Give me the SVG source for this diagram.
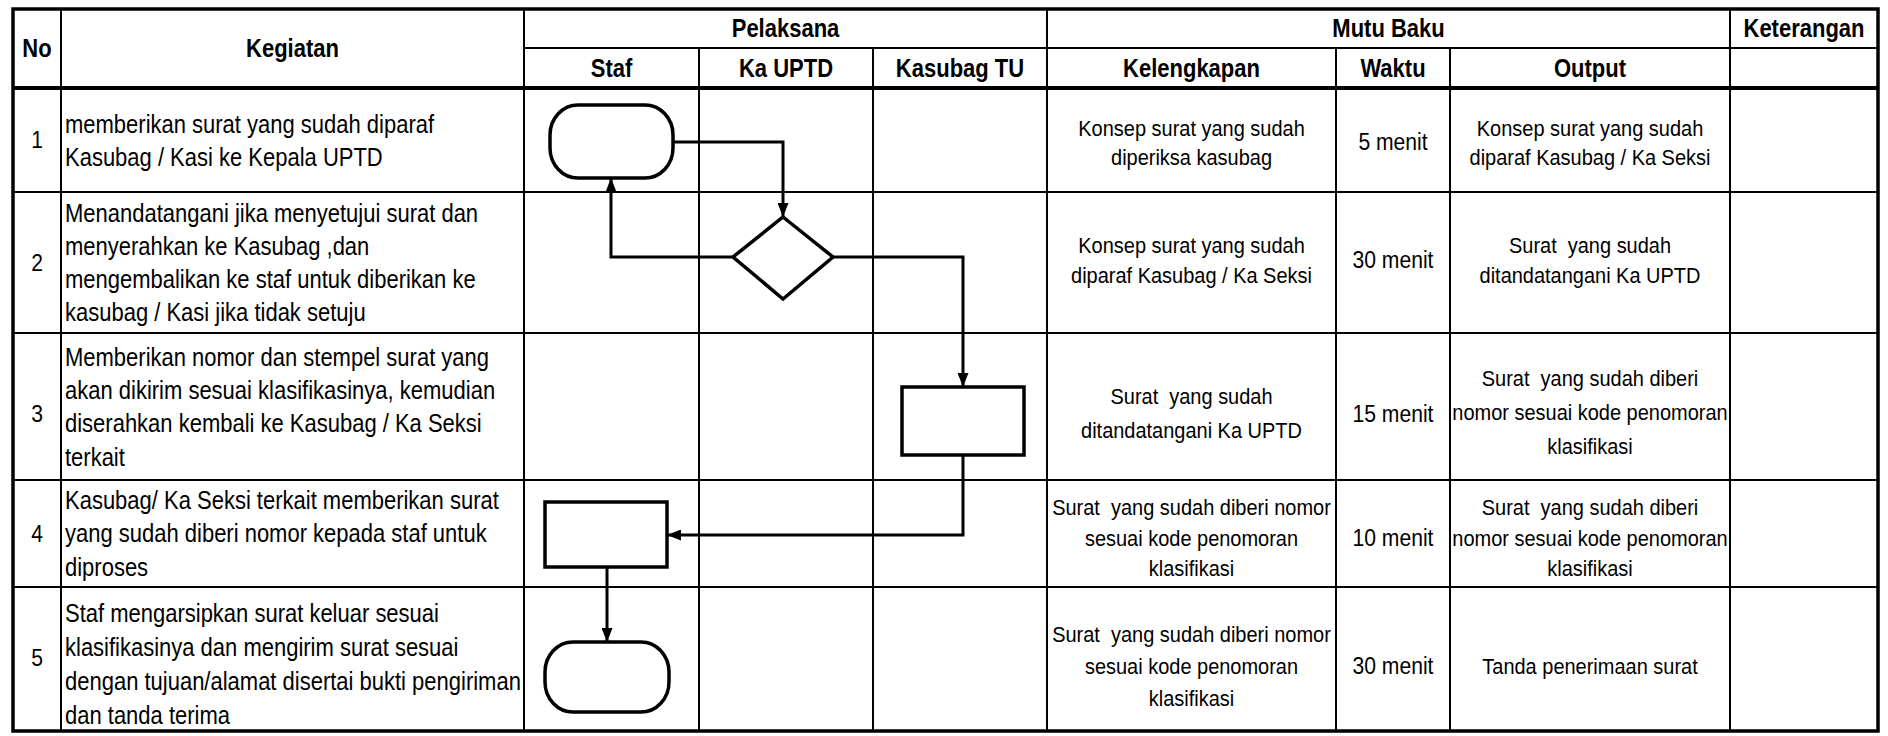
<svg xmlns="http://www.w3.org/2000/svg" width="1888" height="736" viewBox="0 0 1888 736">
<defs>
<style>
.bg{fill:#fff}
.ln{stroke:#000;stroke-width:2;fill:none}
.thk{stroke:#000;stroke-width:4;fill:none}
text{font-family:"Liberation Sans",Arial,sans-serif;fill:#000}
.h{font-weight:bold;font-size:25px;text-anchor:middle}
.k{font-size:25px}
.n{font-size:24px;text-anchor:middle}
.m{font-size:22.7px;text-anchor:middle;white-space:pre}
.w{font-size:24px;text-anchor:middle}
.shape{fill:#fff;stroke:#000;stroke-width:3.5}
.conn{fill:none;stroke:#000;stroke-width:3}
</style>
<marker id="arr" viewBox="0 0 10 10" refX="10" refY="5" markerUnits="userSpaceOnUse" markerWidth="14" markerHeight="11" orient="auto" preserveAspectRatio="none">
<path d="M0,0 L10,5 L0,10 Z" fill="#000"/>
</marker>
</defs>
<rect class="bg" x="0" y="0" width="1888" height="736"/>
<g id="table">
<line class="ln" x1="61" y1="9" x2="61" y2="731"/>
<line class="ln" x1="524" y1="9" x2="524" y2="731"/>
<line class="ln" x1="1047" y1="9" x2="1047" y2="731"/>
<line class="ln" x1="1730" y1="9" x2="1730" y2="731"/>
<line class="ln" x1="699" y1="48" x2="699" y2="731"/>
<line class="ln" x1="873" y1="48" x2="873" y2="731"/>
<line class="ln" x1="1336" y1="48" x2="1336" y2="731"/>
<line class="ln" x1="1450" y1="48" x2="1450" y2="731"/>
<line class="ln" x1="524" y1="48" x2="1878" y2="48"/>
<line class="thk" x1="13" y1="88" x2="1878" y2="88"/>
<line class="ln" x1="13" y1="192" x2="1878" y2="192"/>
<line class="ln" x1="13" y1="333" x2="1878" y2="333"/>
<line class="ln" x1="13" y1="480" x2="1878" y2="480"/>
<line class="ln" x1="13" y1="587" x2="1878" y2="587"/>
<rect x="13" y="9" width="1865" height="722" fill="none" stroke="#000" stroke-width="3.5"/>
</g>
<g id="headers">
<g transform="translate(37,0) scale(0.88,1)"><text class="h" x="0" y="57">No</text></g>
<g transform="translate(292.5,0) scale(0.88,1)"><text class="h" x="0" y="57">Kegiatan</text></g>
<g transform="translate(785.5,0) scale(0.88,1)"><text class="h" x="0" y="37">Pelaksana</text></g>
<g transform="translate(611.5,0) scale(0.88,1)"><text class="h" x="0" y="77">Staf</text></g>
<g transform="translate(786,0) scale(0.88,1)"><text class="h" x="0" y="77">Ka UPTD</text></g>
<g transform="translate(960,0) scale(0.88,1)"><text class="h" x="0" y="77">Kasubag TU</text></g>
<g transform="translate(1388.5,0) scale(0.88,1)"><text class="h" x="0" y="37">Mutu Baku</text></g>
<g transform="translate(1804,0) scale(0.88,1)"><text class="h" x="0" y="37">Keterangan</text></g>
<g transform="translate(1191.5,0) scale(0.88,1)"><text class="h" x="0" y="77">Kelengkapan</text></g>
<g transform="translate(1393,0) scale(0.88,1)"><text class="h" x="0" y="77">Waktu</text></g>
<g transform="translate(1590,0) scale(0.88,1)"><text class="h" x="0" y="77">Output</text></g>
</g>
<g id="col-no" transform="translate(37,0) scale(0.88,1)">
<text class="n" x="0" y="148">1</text>
<text class="n" x="0" y="271">2</text>
<text class="n" x="0" y="422">3</text>
<text class="n" x="0" y="542">4</text>
<text class="n" x="0" y="666">5</text>
</g>
<g id="col-kegiatan" transform="translate(65,0) scale(0.88,1)">
<text class="k" x="0" y="133">memberikan surat yang sudah diparaf</text>
<text class="k" x="0" y="166">Kasubag / Kasi ke Kepala UPTD</text>
<text class="k" x="0" y="222">Menandatangani jika menyetujui surat dan</text>
<text class="k" x="0" y="255">menyerahkan ke Kasubag ,dan</text>
<text class="k" x="0" y="288">mengembalikan ke staf untuk diberikan ke</text>
<text class="k" x="0" y="321">kasubag / Kasi jika tidak setuju</text>
<text class="k" x="0" y="366">Memberikan nomor dan stempel surat yang</text>
<text class="k" x="0" y="399">akan dikirim sesuai klasifikasinya, kemudian</text>
<text class="k" x="0" y="432">diserahkan kembali ke Kasubag / Ka Seksi</text>
<text class="k" x="0" y="466">terkait</text>
<text class="k" x="0" y="509">Kasubag/ Ka Seksi terkait memberikan surat</text>
<text class="k" x="0" y="542">yang sudah diberi nomor kepada staf untuk</text>
<text class="k" x="0" y="576">diproses</text>
<text class="k" x="0" y="622">Staf mengarsipkan surat keluar sesuai</text>
<text class="k" x="0" y="656">klasifikasinya dan mengirim surat sesuai</text>
<text class="k" x="0" y="690">dengan tujuan/alamat disertai bukti pengiriman</text>
<text class="k" x="0" y="724">dan tanda terima</text>
</g>
<g id="col-kelengkapan" transform="translate(1191.5,0) scale(0.88,1)">
<text class="m" x="0" y="136">Konsep surat yang sudah</text>
<text class="m" x="0" y="165">diperiksa kasubag</text>
<text class="m" x="0" y="253">Konsep surat yang sudah</text>
<text class="m" x="0" y="283">diparaf Kasubag / Ka Seksi</text>
<text class="m" x="0" y="404" xml:space="preserve">Surat  yang sudah</text>
<text class="m" x="0" y="438">ditandatangani Ka UPTD</text>
<text class="m" x="0" y="515" xml:space="preserve">Surat  yang sudah diberi nomor</text>
<text class="m" x="0" y="546">sesuai kode penomoran</text>
<text class="m" x="0" y="576">klasifikasi</text>
<text class="m" x="0" y="642" xml:space="preserve">Surat  yang sudah diberi nomor</text>
<text class="m" x="0" y="674">sesuai kode penomoran</text>
<text class="m" x="0" y="706">klasifikasi</text>
</g>
<g id="col-waktu" transform="translate(1393,0) scale(0.88,1)">
<text class="w" x="0" y="150">5 menit</text>
<text class="w" x="0" y="268">30 menit</text>
<text class="w" x="0" y="422">15 menit</text>
<text class="w" x="0" y="546">10 menit</text>
<text class="w" x="0" y="674">30 menit</text>
</g>
<g id="col-output" transform="translate(1590,0) scale(0.88,1)">
<text class="m" x="0" y="136">Konsep surat yang sudah</text>
<text class="m" x="0" y="165">diparaf Kasubag / Ka Seksi</text>
<text class="m" x="0" y="253" xml:space="preserve">Surat  yang sudah</text>
<text class="m" x="0" y="283">ditandatangani Ka UPTD</text>
<text class="m" x="0" y="386" xml:space="preserve">Surat  yang sudah diberi</text>
<text class="m" x="0" y="420">nomor sesuai kode penomoran</text>
<text class="m" x="0" y="454">klasifikasi</text>
<text class="m" x="0" y="515" xml:space="preserve">Surat  yang sudah diberi</text>
<text class="m" x="0" y="546">nomor sesuai kode penomoran</text>
<text class="m" x="0" y="576">klasifikasi</text>
<text class="m" x="0" y="674">Tanda penerimaan surat</text>
</g>
<g id="connectors">
<path class="conn" d="M673,142 H783 V217" marker-end="url(#arr)"/>
<path class="conn" d="M733,257 H611 V178" marker-end="url(#arr)"/>
<path class="conn" d="M833,257 H963 V387" marker-end="url(#arr)"/>
<path class="conn" d="M963,455 V535 H667" marker-end="url(#arr)"/>
<path class="conn" d="M607,567 V642" marker-end="url(#arr)"/>
</g>
<g id="node-start">
<rect class="shape" x="550" y="105" width="123" height="73" rx="28" ry="30"/>
</g>
<g id="node-decision">
<polygon class="shape" points="783,217 833,257 783,299 733,257"/>
</g>
<g id="node-stamp">
<rect class="shape" x="902" y="387" width="122" height="68"/>
</g>
<g id="node-handover">
<rect class="shape" x="545" y="502" width="122" height="65"/>
</g>
<g id="node-end">
<rect class="shape" x="545" y="642" width="124" height="70" rx="28" ry="30"/>
</g>
</svg>
